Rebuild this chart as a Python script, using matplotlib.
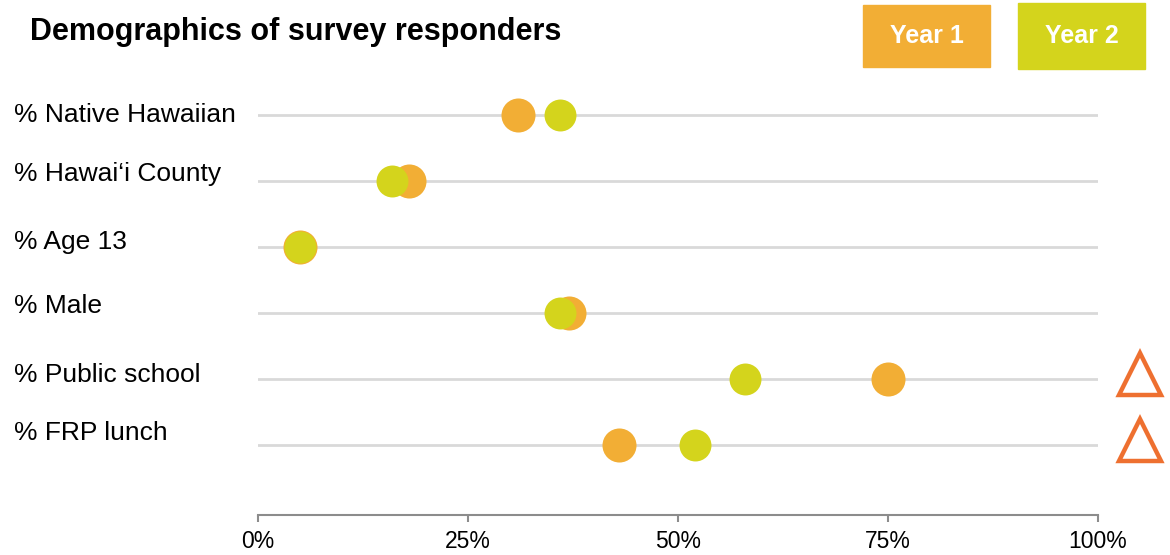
import numpy as np
import matplotlib
matplotlib.use("Agg")
import matplotlib.pyplot as plt
from matplotlib import transforms

plt.rcParams['font.family'] = ['Liberation Sans Narrow', 'Liberation Sans', 'DejaVu Sans']

# data
categories = ["% Native Hawaiian", "% Hawai\u2018i County", "% Age 13",
              "% Male", "% Public school", "% FRP lunch"]
year1 = [31, 18, 5, 37, 75, 43]
year2 = [36, 16, 5, 36, 58, 52]
flagged = [False, False, False, False, True, True]
xticks = [0, 25, 50, 75, 100]
xlabels = ["0%", "25%", "50%", "75%", "100%"]

orange = "#F2AE35"
yellow = "#D4D41C"
tri_col = "#EE7030"

fig = plt.figure(figsize=(11.7, 5.55), dpi=100)
ax = fig.add_axes([258/1170, 1 - 515/555, 840/1170, 439.6/555])

n = len(categories)
ypos = np.arange(n)[::-1] + 1.0  # top row highest

for y in ypos:
    ax.axhline(y, color="#D9D9D9", lw=2, zorder=1)

ax.plot(year1, ypos, 'o', color=orange, ms=24.5, mew=0, zorder=3)
ax.plot(year2, ypos, 'o', color=yellow, ms=23, mew=0, zorder=4)

# triangles marking a notable change
ty = [y + 0.08 for y, f in zip(ypos, flagged) if f]
ax.plot([105] * len(ty), ty, '^', ms=30, mfc='none', mec=tri_col, mew=3.2,
        clip_on=False, zorder=5)

ax.set_xlim(0, 100)
ax.set_ylim(-0.06, 6.6)
ax.set_xticks(xticks)
ax.set_xticklabels(xlabels, fontsize=16.5)
ax.set_yticks([])
for s in ["top", "right", "left"]:
    ax.spines[s].set_visible(False)
ax.spines["bottom"].set_color("#8C8C8C")
ax.spines["bottom"].set_linewidth(1.5)
ax.tick_params(axis='x', direction='out', length=5, width=1.5, color="#8C8C8C",
               pad=6)

# category labels, slightly above their lines like the original
shift = [0.0, 0.1, 0.08, 0.1, 0.06, 0.18]
tr = transforms.blended_transform_factory(fig.transFigure, ax.transData)
for lab, y, s in zip(categories, ypos, shift):
    ax.text(14/1170, y + s, lab, transform=tr, ha='left', va='center',
            fontsize=19, color="black")

fig.text(30/1170, 1 - 32/555, "Demographics of survey responders",
         fontsize=22, fontweight='bold', ha='left', va='center')

# legend boxes
for (x0, x1, y0, y1, col, lab) in [(863, 990, 5, 67, orange, "Year 1"),
                                    (1018, 1145, 3, 69, yellow, "Year 2")]:
    fig.patches.append(plt.Rectangle((x0/1170, 1 - y1/555), (x1-x0)/1170,
                                     (y1-y0)/555, transform=fig.transFigure,
                                     color=col, zorder=0))
    fig.text((x0+x1)/2/1170, 1 - (y0+y1)/2/555, lab, color="white",
             fontsize=18, fontweight='bold', ha='center', va='center')

fig.savefig("out.png", dpi=100)
